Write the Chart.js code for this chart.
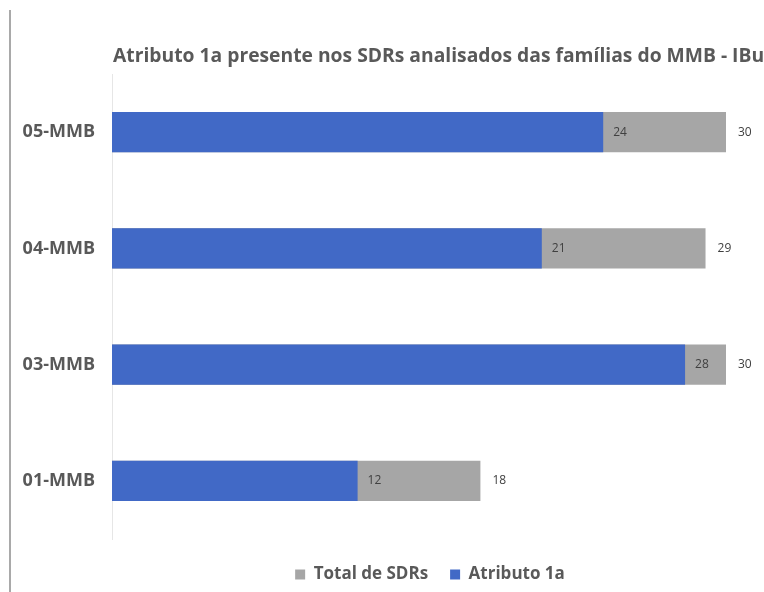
<!DOCTYPE html>
<html>
<head>
<meta charset="utf-8">
<script src="https://cdn.jsdelivr.net/npm/chart.js@4"></script>
<style>
    body { margin: 0; background: #fff; }
    #wrap { position: relative; width: 764px; height: 592px; }
    #edge { position: absolute; left: 9px; top: 10px; width: 2px; height: 582px; background: #a9a9a9; }
</style>
</head>
<body>
<div id="wrap">
    <div id="edge"></div>
    <canvas id="chart" width="764" height="592"></canvas>
</div>
<script>
// Chart data
const categories = ['05-MMB', '04-MMB', '03-MMB', '01-MMB'];
const atributo1a = [24, 21, 28, 12];
const totalSDRs = [30, 29, 30, 18];
const chartTitle = 'Atributo 1a presente nos SDRs analisados das famílias do MMB - IBu';

const BLUE = '#4169c6';
const GRAY = '#a6a6a6';
const TEXT = '#595959';
const FONT = '"Open Sans", Lato, sans-serif';

// Title starts at the plot's left edge and runs past the right side
const leftTitle = {
    id: 'leftTitle',
    afterLayout(chart) {
        // nudge the legend a little to the right, like the original
        chart.legend.left += 11;
        chart.legend.right += 11;
    },
    afterDraw(chart) {
        const ctx = chart.ctx;
        ctx.save();
        ctx.font = 'bold 19.3px ' + FONT;
        ctx.fillStyle = TEXT;
        ctx.textAlign = 'left';
        ctx.textBaseline = 'middle';
        ctx.fillText(chartTitle, chart.chartArea.left + 1, 57);
        ctx.restore();
    }
};

// Draw the value labels next to the bar ends
const valueLabels = {
    id: 'valueLabels',
    afterDatasetsDraw(chart) {
        const ctx = chart.ctx;
        const xScale = chart.scales.x;
        const meta = chart.getDatasetMeta(0);
        ctx.save();
        ctx.font = '12px ' + FONT;
        ctx.fillStyle = '#404040';
        ctx.textAlign = 'left';
        ctx.textBaseline = 'middle';
        meta.data.forEach((bar, i) => {
            const y = bar.y;
            ctx.fillText(atributo1a[i], xScale.getPixelForValue(atributo1a[i]) + 10, y);
            ctx.fillText(totalSDRs[i], xScale.getPixelForValue(totalSDRs[i]) + 12, y);
        });
        ctx.restore();
    }
};

const ctx = document.getElementById('chart').getContext('2d');
new Chart(ctx, {
    type: 'bar',
    data: {
        labels: categories,
        datasets: [{
            label: 'Atributo 1a',
            data: atributo1a,
            backgroundColor: BLUE,
            grouped: false,
            categoryPercentage: 1,
            barPercentage: 0.345,
        }, {
            label: 'Total de SDRs',
            data: totalSDRs,
            backgroundColor: GRAY,
            grouped: false,
            categoryPercentage: 1,
            barPercentage: 0.345,
        }]
    },
    options: {
        indexAxis: 'y',
        responsive: false,
        animation: false,
        layout: {
            padding: { left: 20, right: 38, top: 74, bottom: -1 }
        },
        scales: {
            x: {
                min: 0,
                max: 30,
                grid: { display: false },
                border: { display: false },
                ticks: { display: false },
                afterFit(scale) { scale.height = 5; }
            },
            y: {
                grid: { display: false },
                border: { display: true, color: '#e6e6e6' },
                ticks: {
                    color: TEXT,
                    padding: 9,
                    font: { family: FONT, size: 18, weight: 'bold' }
                },
                afterFit(scale) { scale.width = 92; }
            }
        },
        plugins: {
            title: { display: false },
            legend: {
                position: 'bottom',
                fullSize: false,
                reverse: true,
                labels: {
                    color: TEXT,
                    boxWidth: 10,
                    boxHeight: 10,
                    padding: 22,
                    font: { family: FONT, size: 17, weight: 'bold' }
                }
            },
            tooltip: { enabled: false }
        }
    },
    plugins: [valueLabels, leftTitle]
});
</script>
</body>
</html>
